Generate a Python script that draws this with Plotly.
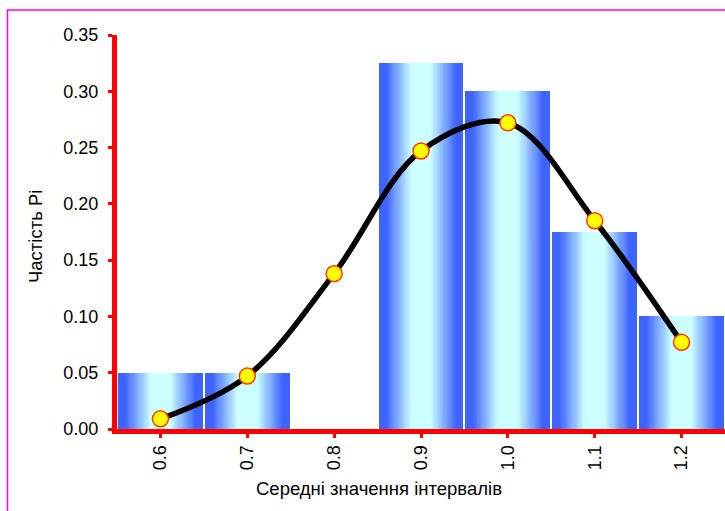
import plotly.graph_objects as go

# Interval midpoints and observed / theoretical relative frequencies
categories = [0.6, 0.7, 0.8, 0.9, 1.0, 1.1, 1.2]
observed = [0.05, 0.05, 0.0, 0.325, 0.30, 0.175, 0.10]
theoretical = [0.009, 0.047, 0.138, 0.247, 0.272, 0.185, 0.077]
y_ticks = [0.00, 0.05, 0.10, 0.15, 0.20, 0.25, 0.30, 0.35]

FONT = "Liberation Sans, Arial, sans-serif"
EDGE = (62, 100, 255)
CENTER = (204, 255, 255)
BAR_W = 0.0976
N_LAYERS = 24
PLATEAU = 0.24

fig = go.Figure()

# Solid blue base bar, then a horizontal blue→cyan gradient from overlay bars of shrinking width
fig.add_trace(go.Bar(
    x=categories, y=observed, width=BAR_W,
    marker=dict(color="rgb(%d,%d,%d)" % EDGE, line=dict(width=0)),
    showlegend=False, hoverinfo="skip",
))
for k in range(N_LAYERS):
    t = k / (N_LAYERS - 1)
    col = tuple(round(EDGE[i] + (CENTER[i] - EDGE[i]) * t) for i in range(3))
    w = BAR_W * (0.84 - (0.84 - PLATEAU) * t)
    fig.add_trace(go.Bar(
        x=categories, y=observed, width=w,
        marker=dict(color="rgb(%d,%d,%d)" % col, line=dict(width=0)),
        showlegend=False, hoverinfo="skip",
    ))

fig.add_trace(go.Scatter(
    x=categories, y=theoretical, mode="lines+markers",
    line=dict(color="black", width=5.5, shape="spline", smoothing=1.0),
    marker=dict(size=16, color="#ffff00", line=dict(color="#ff3c00", width=1.5)),
    showlegend=False,
))

L, T, B = 117, 35, 82
PW, PH = 725 - L, 511 - T - B

fig.update_layout(
    width=725, height=511,
    barmode="overlay", bargap=0,
    paper_bgcolor="white", plot_bgcolor="white",
    margin=dict(l=L, r=0, t=T, b=B),
    font=dict(family=FONT, size=18, color="black"),
    shapes=[dict(
        type="rect", xref="paper", yref="paper",
        x0=(7.5 - L) / PW, x1=1.2, y0=-0.5, y1=(PH + T - 10) / PH,
        line=dict(color="#ff00ff", width=1.5), fillcolor="rgba(0,0,0,0)", layer="below",
    )],
    annotations=[
        dict(text="Середні значення інтервалів", xref="paper", yref="paper",
             x=(379 - L) / PW, y=(PH + T - 488) / PH, xanchor="center", yanchor="middle",
             showarrow=False, font=dict(size=18.5)),
        dict(text="Частість Pi", xref="paper", yref="paper", textangle=-90,
             x=(35 - L) / PW, y=(PH + T - 237) / PH, xanchor="center", yanchor="middle",
             showarrow=False, font=dict(size=18.5)),
    ],
)
fig.update_xaxes(
    range=[0.55, 1.25], tickvals=categories, tickformat=".1f", tickangle=-90,
    showline=True, linecolor="red", linewidth=5,
    ticks="outside", tickcolor="red", ticklen=4, tickwidth=3,
    showgrid=False, zeroline=False,
)
fig.update_yaxes(
    range=[0, 0.35], tickvals=y_ticks, tickformat=".2f",
    showline=True, linecolor="red", linewidth=5,
    ticks="outside", tickcolor="red", ticklen=4, tickwidth=3,
    ticklabelstandoff=6,
    showgrid=False, zeroline=False,
)

fig.write_html("out.html")
